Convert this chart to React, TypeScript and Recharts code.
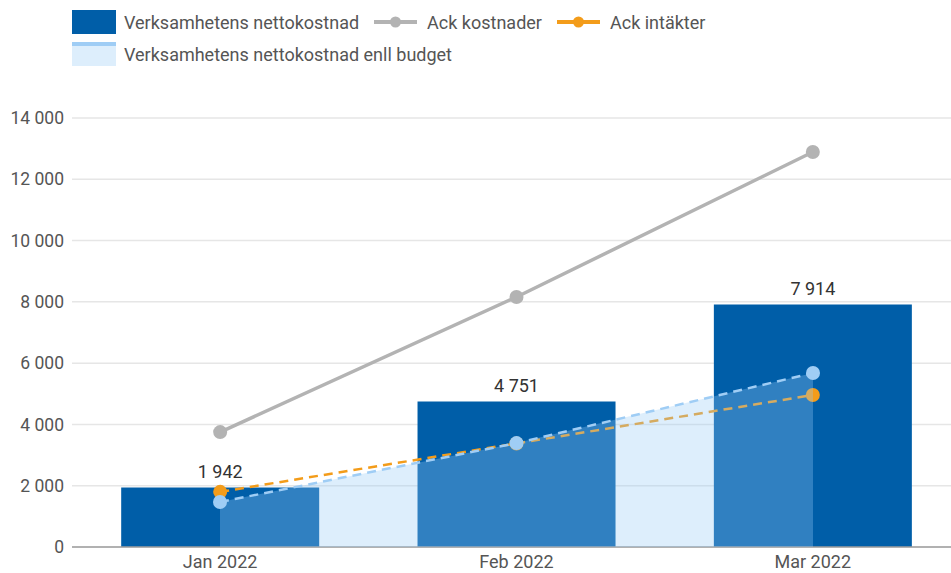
import React from 'react';
import { ComposedChart, Bar, Line, Area, XAxis, YAxis, CartesianGrid, LabelList } from 'recharts';

const categories = ['Jan 2022', 'Feb 2022', 'Mar 2022'];
const nettokostnad = [1942, 4751, 7914];
const budget = [1470, 3390, 5680];
const ackKostnader = [3750, 8160, 12890];
const ackIntakter = [1800, 3380, 4960];
const yTicks = [0, 2000, 4000, 6000, 8000, 10000, 12000, 14000];

const data = categories.map((c, i) => ({
  name: c,
  netto: nettokostnad[i],
  budget: budget[i],
  kost: ackKostnader[i],
  intakt: ackIntakter[i],
}));

const fmt = (v: any) => {
  const n = Math.round(Number(v));
  return String(n).replace(/\B(?=(\d{3})+(?!\d))/g, ' ');
};

const DARK = '#005EA8';
const GRAY = '#B3B3B3';
const ORANGE = '#F39C1A';
const LIGHT = '#9FCDF5';
const FONT = 'Roboto, sans-serif';

const legendText: React.CSSProperties = { fontSize: 18, color: '#555', fontFamily: FONT, whiteSpace: 'nowrap' };

function LineIcon({ color }: { color: string }) {
  return (
    <svg width={43} height={12} style={{ display: 'block' }}>
      <line x1={0} y1={6} x2={43} y2={6} stroke={color} strokeWidth={4} />
      <circle cx={21.5} cy={6} r={5.5} fill={color} />
    </svg>
  );
}

const W = 962;
const H = 573;
const HALF_BAND = 148;

export default function App() {
  return (
    <div style={{ position: 'absolute', left: 0, top: 0, width: 951, height: 573, overflow: 'hidden', background: '#fff' }}>
      <div style={{ position: 'absolute', left: 72, top: 10, display: 'flex', alignItems: 'center', height: 24 }}>
        <div style={{ width: 44, height: 24, background: DARK }} />
        <span style={{ ...legendText, marginLeft: 8 }}>Verksamhetens nettokostnad</span>
        <div style={{ marginLeft: 15 }}><LineIcon color={GRAY} /></div>
        <span style={{ ...legendText, marginLeft: 10 }}>Ack kostnader</span>
        <div style={{ marginLeft: 15 }}><LineIcon color={ORANGE} /></div>
        <span style={{ ...legendText, marginLeft: 10 }}>Ack intäkter</span>
      </div>
      <div style={{ position: 'absolute', left: 72, top: 42, display: 'flex', alignItems: 'center', height: 24 }}>
        <div style={{ width: 44, height: 24, background: '#DDEEFC', borderTop: `4px solid ${LIGHT}`, boxSizing: 'border-box' }} />
        <span style={{ ...legendText, marginLeft: 8 }}>Verksamhetens nettokostnad enll budget</span>
      </div>
      <div style={{ position: 'absolute', left: 0, top: 0 }}>
        <ComposedChart
          width={W}
          height={H}
          data={data}
          margin={{ top: 118, right: 1, left: 0, bottom: 0 }}
          barCategoryGap="16.6%"
        >
          <CartesianGrid vertical={false} stroke="#E6E6E6" strokeWidth={1.5} />
          <XAxis
            dataKey="name"
            height={26}
            tickLine={false}
            axisLine={{ stroke: '#9E9E9E', strokeWidth: 1.5 }}
            tick={{ fontSize: 18, fill: '#555', fontFamily: FONT }}
            interval={0}
          />
          <YAxis
            width={72}
            domain={[0, 14000]}
            ticks={yTicks}
            tickFormatter={fmt}
            axisLine={false}
            tickLine={false}
            tick={{ fontSize: 17.5, fill: '#555', fontFamily: FONT }}
            interval={0}
          />
          <Bar dataKey="netto" fill={DARK} isAnimationActive={false}>
            <LabelList dataKey="netto" position="top" offset={9} formatter={fmt} style={{ fontSize: 18, fill: '#333', fontFamily: FONT }} />
          </Bar>
          <Line
            dataKey="kost"
            type="linear"
            stroke={GRAY}
            strokeWidth={3.5}
            dot={{ r: 7, fill: GRAY, stroke: 'none' }}
            activeDot={false}
            isAnimationActive={false}
          />
          <Line
            dataKey="intakt"
            type="linear"
            stroke={ORANGE}
            strokeWidth={2.5}
            strokeDasharray="9 6"
            dot={{ r: 7, fill: ORANGE, stroke: 'none', strokeDasharray: '' }}
            activeDot={false}
            isAnimationActive={false}
          />
        </ComposedChart>
      </div>
      <div style={{ position: 'absolute', left: 0, top: 0, pointerEvents: 'none' }}>
        <ComposedChart
          width={W}
          height={H}
          data={data}
          margin={{ top: 118, right: 1, left: 72, bottom: 26 }}
        >
          <XAxis dataKey="name" hide padding={{ left: HALF_BAND, right: HALF_BAND }} />
          <YAxis hide domain={[0, 14000]} ticks={yTicks} />
          <Area
            dataKey="budget"
            type="linear"
            fill="#94CAF5"
            fillOpacity={0.32}
            stroke={LIGHT}
            strokeWidth={2.5}
            strokeDasharray="9 6"
            dot={{ r: 7, fill: LIGHT, stroke: 'none', fillOpacity: 1, strokeDasharray: '' }}
            activeDot={false}
            isAnimationActive={false}
          />
        </ComposedChart>
      </div>
    </div>
  );
}
